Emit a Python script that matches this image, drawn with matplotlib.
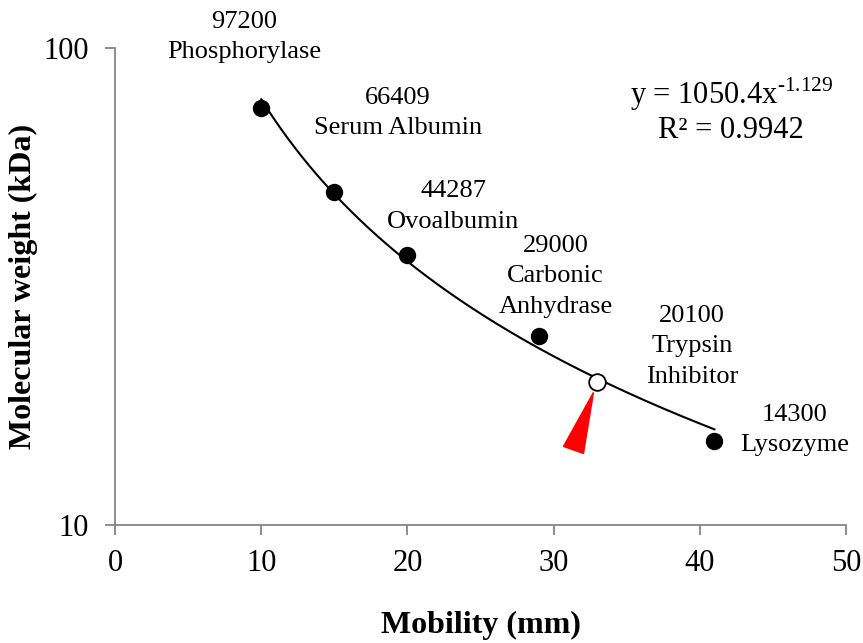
import matplotlib.pyplot as plt
import matplotlib.patches as mpatches
import matplotlib.transforms as mtransforms
import numpy as np

plt.rcParams['font.family'] = ['Liberation Serif', 'DejaVu Serif']
plt.rcParams['mathtext.fontset'] = 'custom'
plt.rcParams['mathtext.rm'] = 'Liberation Serif'

# standards (filled) and the unknown band (open)
mobility = [10, 15, 20, 29, 41]
mw = [74.8, 49.9, 36.8, 24.9, 15.0]
labels = ['97200\nPhosphorylase', '66409\nSerum Albumin', '44287\nOvoalbumin',
          '29000\nCarbonic\nAnhydrase', '14300\nLysozyme']
unknown_x = 33
unknown_y = 19.9
unknown_label = '20100\nTrypsin\nInhibitor'

# power trendline y = a * x^b
fit_a = 1050.4
fit_b = -1.129
fit_range = (10, 41)

gray = '#868686'

fig = plt.figure(figsize=(8.63, 6.43), dpi=100)
ax = fig.add_axes([0.1333, 0.1835, 0.847, 0.742])

xs = np.linspace(fit_range[0], fit_range[1], 200)
ax.plot(xs, fit_a * xs ** fit_b, color='black', lw=1.5, zorder=2)
ax.plot(mobility, mw, 'o', color='black', ms=11.5, zorder=3)
ax.plot([unknown_x], [unknown_y], 'o', mfc='white', mec='black', mew=1.3, ms=12, zorder=3)

ax.set_yscale('log')
ax.set_xlim(0, 50)
ax.set_ylim(10, 100)
ax.set_xticks([0, 10, 20, 30, 40, 50])
ax.set_yticks([10, 100])
ax.set_yticklabels(['10', '100'])
ax.yaxis.set_minor_locator(plt.NullLocator())

for s in ['top', 'right']:
    ax.spines[s].set_visible(False)
for s in ['left', 'bottom']:
    ax.spines[s].set_color(gray)
    ax.spines[s].set_linewidth(1.3)
ax.tick_params(axis='both', direction='out', length=7, width=1.3, color=gray,
               labelsize=22)
ax.tick_params(axis='x', pad=10)
ax.tick_params(axis='y', pad=12)

ax.set_xlabel('Mobility (mm)', fontsize=23, fontweight='bold', labelpad=24)
ax.set_ylabel('Molecular weight (kDa)', fontsize=23, fontweight='bold', labelpad=4)

# data labels, offsets in points from each marker
offsets = [(-12, 51), (46, 57), (33, 35), (12, 43), (58, 8)]
for x, y, t, off in zip(mobility, mw, labels, offsets):
    ax.annotate(t, (x, y), xytext=off, textcoords='offset points',
                ha='center', va='center', fontsize=19, linespacing=1.5)
ax.annotate(unknown_label, (unknown_x, unknown_y), xytext=(68, 26),
            textcoords='offset points', ha='center', va='center',
            fontsize=19, linespacing=1.5)

ax.text(0.843, 0.87, r'y = 1050.4x$^{\text{-1.129}}$' + '\nR² = 0.9942', transform=ax.transAxes,
        ha='center', va='center', fontsize=22, linespacing=1.15)

# red pointer under the unknown band
cx, cy = ax.transData.transform((unknown_x, unknown_y))
tri = mpatches.Polygon([(cx - 4, cy - 10), (cx - 34, cy - 64), (cx - 14, cy - 71)],
                       closed=True, facecolor='red', edgecolor='red',
                       transform=mtransforms.IdentityTransform(), zorder=4)
fig.patches.append(tri)

fig.savefig('out.png', dpi=100)
